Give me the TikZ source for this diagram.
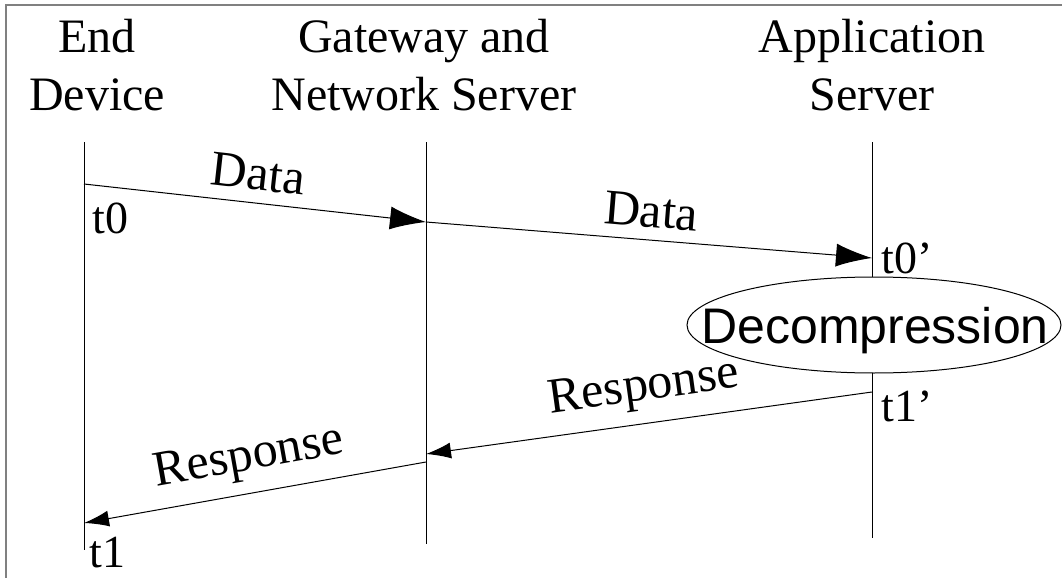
\documentclass[tikz,border=0pt]{standalone}
\usepackage{fontspec}
\setmainfont{Liberation Serif}
\newfontfamily\decofont{Liberation Sans}
\usetikzlibrary{arrows.meta,positioning,shapes.geometric}
\tikzset{>=Latex}
\colorlet{myframe}{black!50}
\tikzset{
	lifeline/.style={draw, line width=0.5pt},
	datamsg/.style={draw, line width=0.5pt, -{Latex[length=18pt,width=11.5pt]}},
	respmsg/.style={draw, line width=0.5pt, -{Latex[length=12.5pt,width=8pt]}},
	head/.style={align=center, inner sep=0, anchor=north, font=\fontsize{24}{29}\selectfont},
	msglabel/.style={sloped, above, inner sep=6pt, font=\fontsize{25}{30}\selectfont},
	stamp/.style={inner sep=0, anchor=base west, font=\fontsize{23}{28}\selectfont},
	decomp/.style={ellipse, draw, fill=white, line width=0.5pt, minimum width=187pt, minimum height=48pt, inner sep=0},
}

\begin{document}
\begin{tikzpicture}[x=0.5pt, y=-0.5pt]
	\useasboundingbox (0,0) rectangle (1062,578);
	% Frame
	\draw[myframe, line width=1pt] (6,578) -- (6,5) -- (1062,5);
	% Headers
	\node[head] (enddev) at (97,19) {End\\Device};
	\node[head] (gateway) at (424,19) {Gateway and\\Network Server};
	\node[head] (appserv) at (872,19) {Application\\Server};
	% Lifelines
	\coordinate (edtop) at (84,142);  \coordinate (edbot) at (84,550);
	\coordinate (gwtop) at (426,142); \coordinate (gwbot) at (426,544);
	\coordinate (astop) at (872,142); \coordinate (asbot) at (872,538);
	\draw[lifeline] (edtop) -- (edbot);
	\draw[lifeline] (gwtop) -- (gwbot);
	\draw[lifeline] (astop) -- (asbot);
	% Message points
	\coordinate (edsend) at (84,184);
	\coordinate (gwin) at (426,222);
	\coordinate (asin) at (872,258);
	\coordinate (assend) at (872,392);
	\coordinate (gwback) at (426,454);
	\coordinate (gwout) at (426,462);
	\coordinate (edin) at (84,523);
	% Decompression
	\node[decomp] (decomp) at (874,325) {};
	\node[inner sep=0, anchor=base, font=\decofont\fontsize{25}{30}\selectfont] (decomptext) at (875,343) {Decompression};
	% Messages
	\draw[datamsg] (edsend) -- node[msglabel] {Data} (gwin);
	\draw[datamsg] (gwin) -- node[msglabel] {Data} (asin);
	\draw[respmsg] (assend) -- node[msglabel] {Response} (gwback);
	\draw[respmsg] (gwout) -- node[msglabel] {Response} (edin);
	% Time stamps
	\node[stamp] (t0) at (92,233) {t0};
	\node[stamp] (t0p) at (881,273) {t0'};
	\node[stamp] (t1p) at (881,421) {t1'};
	\node[stamp] (t1) at (89,567) {t1};
\end{tikzpicture}
\end{document}
